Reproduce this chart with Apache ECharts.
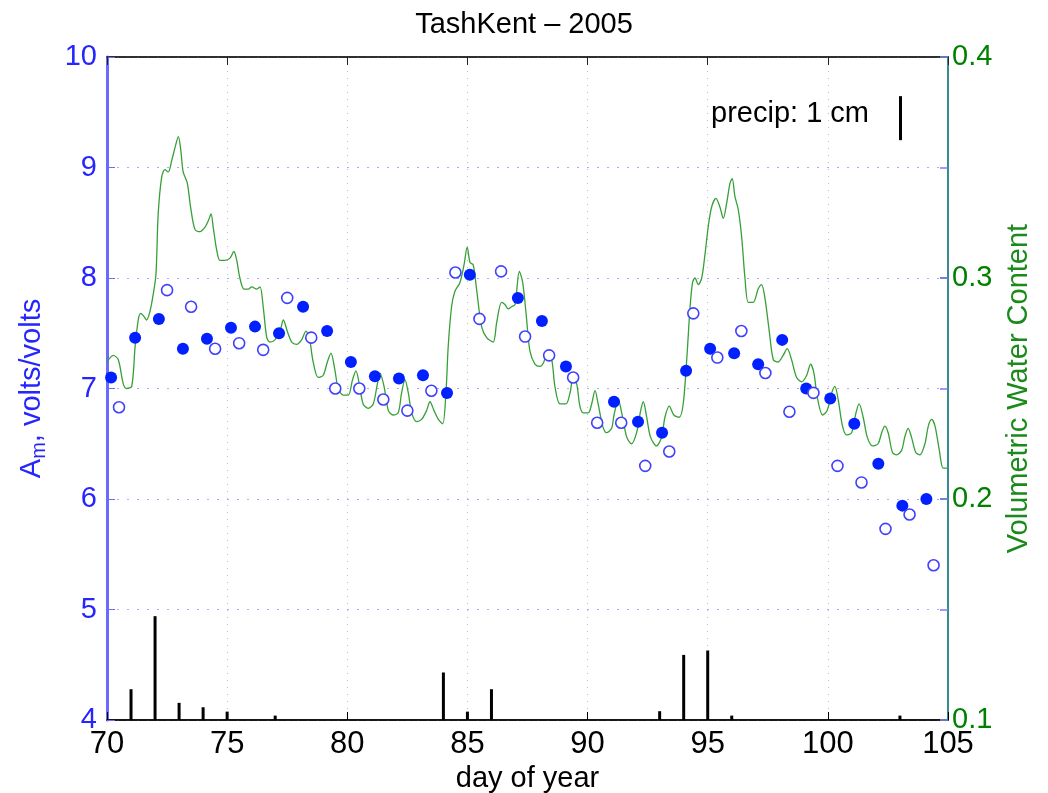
<!DOCTYPE html>
<html>
<head>
<meta charset="utf-8">
<script src="https://cdn.jsdelivr.net/npm/echarts@6/dist/echarts.min.js"></script>
<style>html,body{margin:0;padding:0;background:#fff}#c{width:1048px;height:793px}</style>
</head>
<body>
<div id="c"></div>
<script>
// ---- data ----
const amFilled = [
 [70.17,7.10],[71.17,7.46],[72.16,7.63],[73.16,7.36],[74.16,7.45],[75.16,7.55],[76.16,7.56],
 [77.16,7.50],[78.16,7.74],[79.16,7.52],[80.15,7.24],[81.15,7.11],[82.15,7.09],[83.15,7.12],
 [84.15,6.96],[85.1,8.03],[87.1,7.82],[88.1,7.61],[89.1,7.20],[91.1,6.88],[92.1,6.70],
 [93.1,6.60],[94.1,7.16],[95.1,7.36],[96.1,7.32],[97.1,7.22],[98.1,7.44],[99.1,7.00],
 [100.1,6.91],[101.1,6.68],[102.1,6.32],[103.1,5.94],[104.1,6.00]
];
const amOpen = [
 [70.5,6.83],[72.5,7.89],[73.5,7.74],[74.5,7.36],[75.5,7.41],[76.5,7.35],[77.5,7.82],
 [78.5,7.46],[79.5,7.00],[80.5,7.00],[81.5,6.90],[82.5,6.80],[83.5,6.98],[84.5,8.05],
 [85.5,7.63],[86.4,8.06],[87.4,7.47],[88.4,7.30],[89.4,7.10],[90.4,6.69],[91.4,6.69],
 [92.4,6.30],[93.4,6.43],[94.4,7.68],[95.4,7.28],[96.4,7.52],[97.4,7.14],[98.4,6.79],
 [99.4,6.96],[100.4,6.30],[101.4,6.15],[102.4,5.73],[103.4,5.86],[104.4,5.40]
];
const vwcDays = [
 70.0,70.26,70.47,70.68,70.82,71.03,71.17,71.30,71.40,71.51,71.65,71.79,71.93,72.04,72.13,72.28,72.41,72.55,72.69,72.83,
 72.97,73.07,73.17,73.34,73.48,73.66,73.87,74.08,74.22,74.33,74.42,74.56,74.70,74.91,75.12,75.28,75.40,75.53,75.70,75.88,
 76.02,76.23,76.37,76.50,76.65,76.78,76.99,77.20,77.34,77.50,77.69,77.89,78.10,78.28,78.42,78.58,78.79,79.00,79.17,79.32,
 79.49,79.62,79.83,80.04,80.22,80.36,80.50,80.66,80.87,81.08,81.25,81.36,81.53,81.71,81.91,82.12,82.26,82.40,82.54,82.68,
 82.89,83.09,83.30,83.44,83.61,83.79,83.97,84.11,84.20,84.34,84.48,84.69,84.86,84.99,85.11,85.24,85.38,85.59,85.80,86.07,
 86.22,86.42,86.56,86.70,86.84,86.98,87.16,87.30,87.44,87.60,87.81,88.02,88.18,88.32,88.51,88.64,88.85,89.10,89.27,89.40,
 89.55,89.68,89.82,90.03,90.17,90.31,90.44,90.63,90.79,91.00,91.10,91.28,91.42,91.63,91.83,92.04,92.21,92.32,92.46,92.62,
 92.87,93.08,93.22,93.40,93.59,93.81,93.98,94.15,94.26,94.37,94.47,94.61,94.75,94.89,95.02,95.16,95.34,95.51,95.65,95.79,
 95.93,96.02,96.13,96.27,96.41,96.55,96.69,96.89,97.10,97.24,97.38,97.56,97.73,97.93,98.14,98.31,98.49,98.70,98.91,99.12,
 99.28,99.42,99.56,99.78,99.97,100.16,100.29,100.43,100.61,100.78,100.99,101.17,101.30,101.47,101.64,101.86,102.09,102.24,102.37,102.51,
 102.69,102.86,103.07,103.20,103.34,103.48,103.66,103.83,104.04,104.18,104.32,104.46,104.64,104.80,105.0
];
const vwcValues = [
 0.262,0.265,0.263,0.252,0.250,0.251,0.269,0.281,0.284,0.283,0.281,0.285,0.293,0.302,0.329,0.346,0.349,0.348,0.353,0.359,
 0.364,0.358,0.348,0.343,0.332,0.322,0.321,0.323,0.326,0.329,0.323,0.313,0.308,0.308,0.309,0.312,0.308,0.300,0.295,0.295,
 0.296,0.295,0.296,0.287,0.273,0.271,0.272,0.276,0.281,0.276,0.271,0.270,0.272,0.276,0.273,0.262,0.255,0.256,0.262,0.266,
 0.258,0.250,0.247,0.247,0.254,0.258,0.252,0.243,0.241,0.243,0.252,0.257,0.251,0.240,0.238,0.239,0.248,0.254,0.248,0.239,
 0.235,0.236,0.240,0.244,0.240,0.236,0.234,0.249,0.269,0.287,0.294,0.298,0.306,0.314,0.307,0.306,0.295,0.278,0.273,0.271,
 0.280,0.289,0.288,0.286,0.287,0.288,0.303,0.298,0.284,0.267,0.261,0.260,0.262,0.267,0.263,0.251,0.243,0.243,0.248,0.255,
 0.252,0.242,0.239,0.239,0.243,0.249,0.243,0.233,0.230,0.232,0.238,0.245,0.239,0.228,0.225,0.230,0.240,0.244,0.237,0.228,
 0.224,0.228,0.237,0.242,0.238,0.237,0.243,0.267,0.286,0.298,0.300,0.297,0.300,0.311,0.323,0.332,0.336,0.332,0.327,0.334,
 0.343,0.345,0.337,0.331,0.319,0.300,0.289,0.289,0.295,0.297,0.291,0.276,0.263,0.262,0.265,0.268,0.263,0.255,0.253,0.256,
 0.261,0.257,0.246,0.238,0.240,0.248,0.251,0.245,0.233,0.229,0.230,0.239,0.243,0.237,0.228,0.224,0.225,0.230,0.233,0.230,
 0.221,0.220,0.222,0.228,0.232,0.228,0.221,0.220,0.225,0.233,0.236,0.233,0.222,0.214,0.214
];
const precipDays = [71,72,73,74,75,77,84,85,86,93,94,95,96,103];
const precipCm   = [0.70,2.36,0.39,0.29,0.19,0.10,1.08,0.19,0.70,0.20,1.48,1.58,0.10,0.10];
const xTicks = [70,75,80,85,90,95,100,105];
const leftTicks = [4,5,6,7,8,9,10];
const rightTicks = [0.1,0.2,0.3,0.4];
const precipScaleCm = 1;      // legend bar length
const precipAxisMax = 15.07;  // cm across full plot height

const FONT = 'Liberation Sans';
const FS = 29;
const chart = echarts.init(document.getElementById('c'), null, {renderer:'canvas'});
const vwcData = vwcDays.map((d,i)=>[d, vwcValues[i]]);
const precipData = precipDays.map((d,i)=>[d, precipCm[i]]);
const xMin = xTicks[0], xMax = xTicks[xTicks.length-1];

chart.setOption({
  animation:false,
  backgroundColor:'#fff',
  textStyle:{fontFamily:FONT},
  title:{text:'TashKent \u2013 2005', left:'center', top:5,
    textStyle:{fontFamily:FONT, fontSize:FS, fontWeight:'normal', color:'#000'}},
  grid:{left:107, right:100, top:57, bottom:73, show:true, borderColor:'#222', borderWidth:1.5,
    containLabel:false, outerBoundsMode:'none'},
  xAxis:[
    {type:'value', min:xMin, max:xMax, interval:5,
     name:'day of year', nameLocation:'middle', nameGap:38,
     nameTextStyle:{fontFamily:FONT, fontSize:FS, color:'#000'},
     axisLine:{lineStyle:{color:'#000', width:1.5}},
     axisTick:{inside:true, length:8, lineStyle:{color:'#000'}},
     axisLabel:{fontFamily:FONT, fontSize:31, color:'#000', margin:9},
     splitLine:{show:true, lineStyle:{color:'#bdbdbd', type:[1,6], width:1}}},
    {type:'value', min:xMin, max:xMax, interval:5, position:'top',
     axisLine:{show:true, lineStyle:{color:'#222', width:1.5}},
     axisTick:{show:true, inside:true, length:8, lineStyle:{color:'#222'}},
     axisLabel:{show:false}, splitLine:{show:false}}
  ],
  yAxis:[
    {type:'value', min:leftTicks[0], max:leftTicks[leftTicks.length-1], interval:1, position:'left',
     name:'{a|A}{s|m}{a|, volts/volts}', nameLocation:'middle', nameGap:58, nameRotate:90,
     nameTextStyle:{color:'#2525ff', fontFamily:FONT, fontSize:FS,
       rich:{a:{fontSize:FS, color:'#2525ff', fontFamily:FONT},
             s:{fontSize:20, color:'#2525ff', fontFamily:FONT, padding:[14,0,0,0]}}},
     axisLine:{show:true, lineStyle:{color:'#6a6aff', width:3}},
     axisTick:{show:true, inside:true, length:8, lineStyle:{color:'#6a6aff'}},
     axisLabel:{fontFamily:FONT, fontSize:FS, color:'#2525ff', margin:10},
     splitLine:{show:true, lineStyle:{color:'#aaaaff', type:[2,8], width:1}}},
    {type:'value', min:rightTicks[0], max:rightTicks[rightTicks.length-1], interval:0.1, position:'right',
     name:'Volumetric Water Content', nameLocation:'middle', nameGap:56, nameRotate:90,
     nameTextStyle:{color:'#1a8a1a', fontFamily:FONT, fontSize:FS},
     axisLine:{show:true, lineStyle:{color:'#3a8a96', width:2}},
     axisTick:{show:true, inside:true, length:8, lineStyle:{color:'#1a8a1a', width:1.5}},
     axisLabel:{fontFamily:FONT, fontSize:FS, color:'#008000', margin:4,
       formatter:v=>v.toFixed(1)},
     splitLine:{show:false}},
    {type:'value', min:0, max:precipAxisMax, show:false, position:'right'},
    {type:'value', min:leftTicks[0], max:leftTicks[leftTicks.length-1], interval:1, position:'right',
     axisLine:{show:false}, axisLabel:{show:false}, splitLine:{show:false},
     axisTick:{show:true, inside:true, length:8, lineStyle:{color:'#7a7aff', width:1.5}}}
  ],
  series:[
    {type:'bar', name:'precip', yAxisIndex:2, data:precipData, barWidth:3,
     itemStyle:{color:'#000'}, z:3,
     markLine:{silent:true, symbol:'none', animation:false,
       lineStyle:{color:'#000', width:3, type:'solid'}, label:{show:false},
       data:[[{coord:[103, 13.18]},{coord:[103, 13.18+precipScaleCm]}]]}},
    {type:'line', name:'VWC', yAxisIndex:1, data:vwcData, showSymbol:false, symbol:'none',
     lineStyle:{color:'#36a036', width:1.3}, smooth:0.3, z:4},
    {type:'scatter', name:'Am filled', yAxisIndex:0, data:amFilled, symbol:'circle', symbolSize:12,
     itemStyle:{color:'#0020ff', opacity:1}, z:5},
    {type:'scatter', name:'Am open', yAxisIndex:0, data:amOpen, symbol:'circle', symbolSize:11,
     itemStyle:{color:'#fff', borderColor:'#4040ff', borderWidth:1.6, opacity:1}, z:5}
  ],
  graphic:[
    {type:'text', right:179, top:99, style:{text:'precip: 1 cm', fontFamily:FONT, fontSize:FS, fill:'#000'}}
  ]
});
</script>
</body>
</html>
